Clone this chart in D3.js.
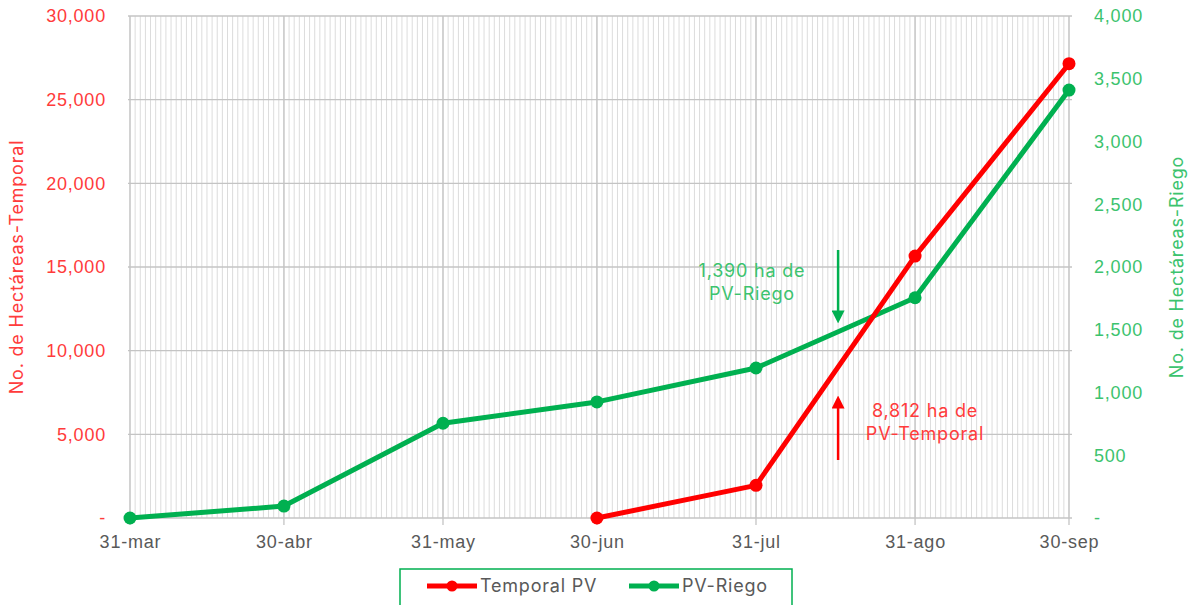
<!DOCTYPE html>
<html>
<head>
<meta charset="utf-8">
<script src="https://cdn.jsdelivr.net/npm/d3@7"></script>
<style>
  body { margin: 0; background: #fff; }
  svg { font-family: Inter, "Open Sans", sans-serif; }
  svg text { letter-spacing: 0.8px; }
</style>
</head>
<body>
<svg width="1193" height="605"></svg>
<script>
// fechas (cortes mensuales) y valores
var fechas = ["2021-03-31","2021-04-30","2021-05-31","2021-06-30","2021-07-31","2021-08-31","2021-09-30"];
var etiquetasX = ["31-mar","30-abr","31-may","30-jun","31-jul","31-ago","30-sep"];
var temporalPV = [null, null, null, 0, 1950, 15650, 27150];
var pvRiego = [0, 95, 755, 925, 1195, 1755, 3410];
var ticksIzq = [0, 5000, 10000, 15000, 20000, 25000, 30000];
var ticksDer = [0, 500, 1000, 1500, 2000, 2500, 3000, 3500, 4000];
var notaRiego = ["1,390 ha de", "PV-Riego"];
var notaTemporal = ["8,812 ha de", "PV-Temporal"];
var fechaNota = "2021-08-16";

var rojo = "#ff0000", verde = "#00b050";
var rojoTxt = "#ff3b3b", verdeTxt = "#3cc36e";

var svg = d3.select("svg");
var parse = d3.timeParse("%Y-%m-%d");
var dias = fechas.map(parse);

var x = d3.scaleTime().domain([dias[0], dias[dias.length - 1]]).range([130, 1069]);
var yL = d3.scaleLinear().domain([0, 30000]).range([518, 16]);
var yR = d3.scaleLinear().domain([0, 4000]).range([518, 16]);
var fmt = d3.format(",");

// rejilla diaria
var g = svg.append("g");
g.selectAll(".minor")
  .data(d3.timeDay.range(dias[0], d3.timeDay.offset(dias[dias.length - 1], 1)))
  .enter().append("line")
  .attr("x1", function(d) { return x(d); }).attr("x2", function(d) { return x(d); })
  .attr("y1", yL(30000)).attr("y2", yL(0))
  .attr("stroke", "#dcdcdc").attr("stroke-width", 1);

g.selectAll(".hgrid")
  .data(ticksIzq)
  .enter().append("line")
  .attr("x1", 128).attr("x2", 1072)
  .attr("y1", function(d) { return yL(d); }).attr("y2", function(d) { return yL(d); })
  .attr("stroke", "#c4c4c4").attr("stroke-width", 1.3);

g.selectAll(".major")
  .data(dias)
  .enter().append("line")
  .attr("x1", function(d) { return x(d); }).attr("x2", function(d) { return x(d); })
  .attr("y1", yL(30000)).attr("y2", yL(0) + 7)
  .attr("stroke", "#c4c4c4").attr("stroke-width", 1.3);

// eje X
var ejeX = svg.append("g")
  .attr("transform", "translate(0," + yL(0) + ")")
  .call(d3.axisBottom(x).tickValues(dias).tickSize(0).tickPadding(17)
    .tickFormat(function(d, i) { return etiquetasX[i]; }));
ejeX.select(".domain").remove();
ejeX.selectAll("text").attr("fill", "#595959").style("font-size", "18px");

// eje izquierdo
var ejeL = svg.append("g")
  .attr("transform", "translate(106,0)")
  .call(d3.axisLeft(yL).tickValues(ticksIzq).tickSize(0).tickPadding(0)
    .tickFormat(function(d) { return d === 0 ? "-" : fmt(d); }));
ejeL.select(".domain").remove();
ejeL.selectAll("text").attr("fill", rojoTxt).style("font-size", "18px");

// eje derecho
var ejeR = svg.append("g")
  .attr("transform", "translate(1094,0)")
  .call(d3.axisRight(yR).tickValues(ticksDer).tickSize(0).tickPadding(0)
    .tickFormat(function(d) { return d === 0 ? "-" : fmt(d); }));
ejeR.select(".domain").remove();
ejeR.selectAll("text").attr("fill", verdeTxt).style("font-size", "18px");

// titulos de ejes
svg.append("text")
  .attr("transform", "translate(23,267) rotate(-90)")
  .attr("text-anchor", "middle").attr("fill", rojoTxt).style("font-size", "18px")
  .text("No. de Hectáreas-Temporal");
svg.append("text")
  .attr("transform", "translate(1183,267) rotate(-90)")
  .attr("text-anchor", "middle").attr("fill", verdeTxt).style("font-size", "18px")
  .text("No. de Hectáreas-Riego");

// series
var datosRiego = dias.map(function(d, i) { return { d: d, v: pvRiego[i] }; });
var datosTemp = dias.map(function(d, i) { return { d: d, v: temporalPV[i] }; })
  .filter(function(p) { return p.v !== null; });

var lineaR = d3.line().x(function(p) { return x(p.d); }).y(function(p) { return yR(p.v); });
var lineaL = d3.line().x(function(p) { return x(p.d); }).y(function(p) { return yL(p.v); });

svg.append("path").datum(datosRiego).attr("d", lineaR)
  .attr("fill", "none").attr("stroke", verde).attr("stroke-width", 5).attr("stroke-linejoin", "round");
svg.selectAll(".pr").data(datosRiego).enter().append("circle")
  .attr("cx", function(p) { return x(p.d); }).attr("cy", function(p) { return yR(p.v); })
  .attr("r", 6.5).attr("fill", verde);

svg.append("path").datum(datosTemp).attr("d", lineaL)
  .attr("fill", "none").attr("stroke", rojo).attr("stroke-width", 5).attr("stroke-linejoin", "round");
svg.selectAll(".pt").data(datosTemp).enter().append("circle")
  .attr("cx", function(p) { return x(p.d); }).attr("cy", function(p) { return yL(p.v); })
  .attr("r", 6.5).attr("fill", rojo);

// anotaciones
var defs = svg.append("defs");
[["flechaV", verde], ["flechaR", rojo]].forEach(function(m) {
  defs.append("marker").attr("id", m[0])
    .attr("viewBox", "0 0 10 10").attr("refX", 2).attr("refY", 5)
    .attr("markerUnits", "userSpaceOnUse")
    .attr("markerWidth", 13).attr("markerHeight", 13).attr("orient", "auto")
    .append("path").attr("d", "M0,0 L10,5 L0,10 Z").attr("fill", m[1]);
});
var xn = x(parse(fechaNota));
svg.append("line").attr("x1", xn).attr("x2", xn).attr("y1", 250).attr("y2", 313)
  .attr("stroke", verde).attr("stroke-width", 2.5).attr("marker-end", "url(#flechaV)");
svg.append("line").attr("x1", xn).attr("x2", xn).attr("y1", 460).attr("y2", 406)
  .attr("stroke", rojo).attr("stroke-width", 2.5).attr("marker-end", "url(#flechaR)");

svg.append("text").attr("text-anchor", "middle").attr("fill", verdeTxt).style("font-size", "18px")
  .selectAll("tspan").data(notaRiego).enter().append("tspan")
  .attr("x", 752).attr("y", function(d, i) { return 277 + i * 23; }).text(function(d) { return d; });
svg.append("text").attr("text-anchor", "middle").attr("fill", rojoTxt).style("font-size", "18px")
  .selectAll("tspan").data(notaTemporal).enter().append("tspan")
  .attr("x", 925).attr("y", function(d, i) { return 417 + i * 23; }).text(function(d) { return d; });

// leyenda
var ley = svg.append("g");
ley.append("rect").attr("x", 400).attr("y", 569).attr("width", 392).attr("height", 50)
  .attr("fill", "#fff").attr("stroke", verde).attr("stroke-width", 1.5);
var items = [{ n: "Temporal PV", c: rojo, x: 427 }, { n: "PV-Riego", c: verde, x: 629 }];
items.forEach(function(it) {
  ley.append("line").attr("x1", it.x).attr("x2", it.x + 50).attr("y1", 586).attr("y2", 586)
    .attr("stroke", it.c).attr("stroke-width", 5);
  ley.append("circle").attr("cx", it.x + 25).attr("cy", 586).attr("r", 5.5).attr("fill", it.c);
  ley.append("text").attr("x", it.x + 53).attr("y", 592).attr("fill", "#595959")
    .style("font-size", "18px").text(it.n);
});
</script>
</body>
</html>
